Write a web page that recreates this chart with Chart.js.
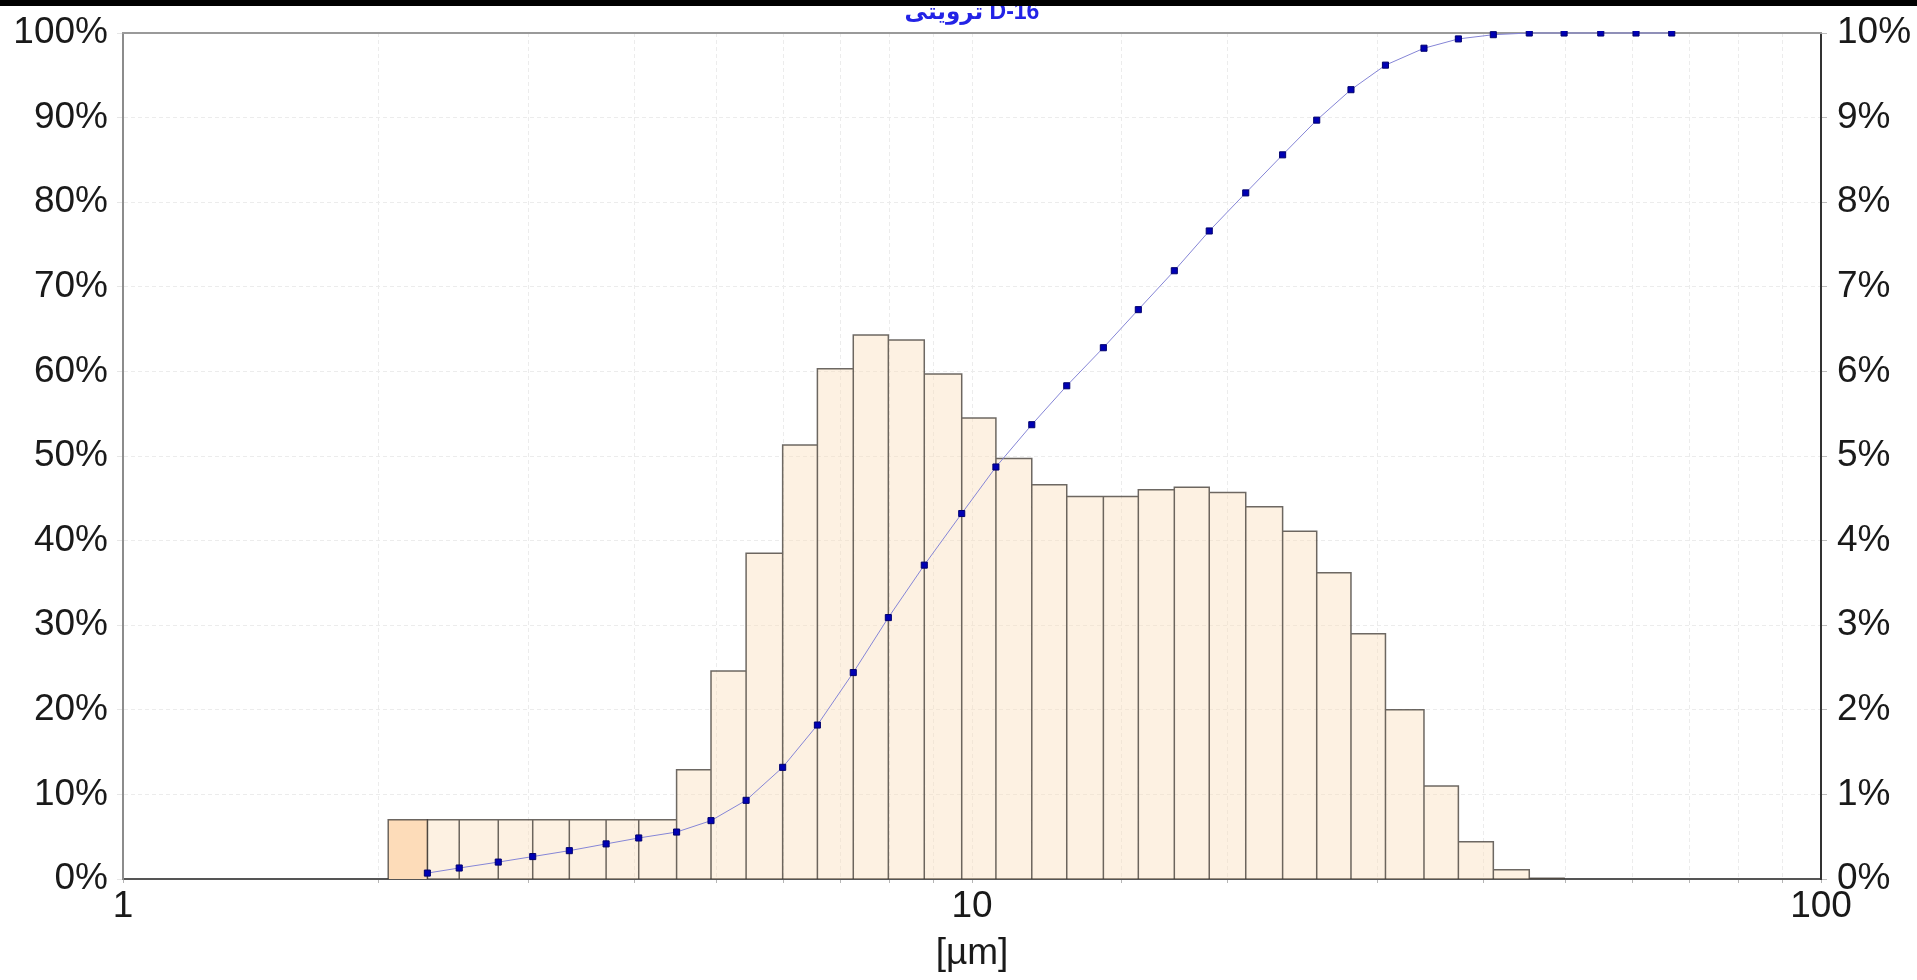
<!DOCTYPE html>
<html>
<head>
<meta charset="utf-8">
<title>D-16 particle size distribution</title>
<script src="https://cdn.jsdelivr.net/npm/chart.js@4.4.1/dist/chart.umd.min.js"></script>
<style>
  html, body { margin: 0; padding: 0; background: #ffffff; }
  #wrap { position: relative; width: 1917px; height: 980px; overflow: hidden; }
  #band { position: absolute; left: 0; top: 0; width: 1917px; height: 6px; background: #000; }
</style>
</head>
<body>
<div id="wrap">
  <canvas id="psd"></canvas>
  <div id="band"></div>
</div>
<script>
// Sample name shown above the plot
const chartTitle = 'ترویتی D-16';

// Size class boundaries [µm] of the histogram
const binEdges = [2.053, 2.283, 2.489, 2.767, 3.038, 3.355, 3.707, 4.050, 4.488, 4.927,
                  5.419, 5.984, 6.575, 7.247, 7.970, 8.786, 9.725, 10.67, 11.76, 12.93,
                  14.28, 15.70, 17.31, 19.03, 21.01, 23.22, 25.47, 27.95, 30.69, 34.07,
                  37.40, 41.12, 45.33, 49.82];

// Share of each size class [%] (right axis)
const binShare = [0.70, 0.70, 0.70, 0.70, 0.70, 0.70, 0.70, 0.70, 1.29, 2.46,
                  3.85, 5.13, 6.03, 6.43, 6.37, 5.97, 5.45, 4.97, 4.66, 4.52,
                  4.52, 4.60, 4.63, 4.57, 4.40, 4.11, 3.62, 2.90, 2.00, 1.10,
                  0.44, 0.11, 0.01];

// Cumulative undersize curve: sizes [µm] and passing [%] (left axis)
const cumSizes = [2.283, 2.489, 2.767, 3.038, 3.355, 3.707, 4.050, 4.488, 4.927, 5.419,
                  5.984, 6.575, 7.247, 7.970, 8.786, 9.725, 10.67, 11.76, 12.93, 14.28,
                  15.70, 17.31, 19.03, 21.01, 23.22, 25.47, 27.95, 30.69, 34.07, 37.40,
                  41.12, 45.33, 49.82, 55.03, 60.55, 66.71];
const cumPassing = [0.7, 1.3, 2.0, 2.65, 3.35, 4.15, 4.85, 5.55, 6.9, 9.3,
                    13.2, 18.2, 24.4, 30.9, 37.1, 43.2, 48.7, 53.7, 58.3, 62.8,
                    67.3, 71.9, 76.6, 81.1, 85.6, 89.7, 93.3, 96.2, 98.2, 99.3,
                    99.8, 100, 100, 100, 100, 100];

// Axis labelling
const xTickLabels = [1, 10, 100];
const leftAxisMax = 100;
const rightAxisMax = 10;

// Outline of size classes [from, to) as a closed step path on the right axis
function classOutline(from, to) {
  const pts = [];
  for (let i = from; i < to; i++) {
    pts.push({ x: binEdges[i], y: 0 });
    pts.push({ x: binEdges[i], y: binShare[i] });
    pts.push({ x: binEdges[i + 1], y: binShare[i] });
    pts.push({ x: binEdges[i + 1], y: 0 });
  }
  return pts;
}

const curvePoints = cumSizes.map((s, i) => ({ x: s, y: cumPassing[i] }));

const FONT = "'Liberation Sans', Arial, 'DejaVu Sans', sans-serif";
Chart.defaults.font.family = FONT;
Chart.defaults.color = '#1a1a1a';

// Top frame line of the plot area
const frameTop = {
  id: 'frameTop',
  beforeDatasetsDraw(chart) {
    const { ctx, chartArea: a } = chart;
    ctx.save();
    ctx.strokeStyle = '#9a9a9a';
    ctx.lineWidth = 2;
    ctx.beginPath();
    ctx.moveTo(a.left - 1, a.top);
    ctx.lineTo(a.right + 1, a.top);
    ctx.stroke();
    ctx.restore();
  }
};

// Sample heading centred over the plot area
const headline = {
  id: 'headline',
  afterDraw(chart) {
    const { ctx, chartArea: a } = chart;
    ctx.save();
    ctx.font = "bold 23px 'Liberation Sans', Arial, 'DejaVu Sans', sans-serif";
    ctx.fillStyle = '#2323e6';
    ctx.textAlign = 'center';
    ctx.textBaseline = 'alphabetic';
    ctx.fillText(chartTitle, (a.left + a.right) / 2, 19);
    ctx.restore();
  }
};

const isDecade = v => Math.abs(Math.log10(v) - Math.round(Math.log10(v))) < 1e-9;

new Chart(document.getElementById('psd'), {
  type: 'line',
  data: {
    datasets: [
      {
        label: 'cumulative',
        data: curvePoints,
        yAxisID: 'y',
        order: 0,
        borderColor: '#8585d6',
        borderWidth: 1,
        tension: 0,
        fill: false,
        pointStyle: 'rect',
        pointRadius: 4.3,
        pointBorderWidth: 1,
        pointBackgroundColor: '#0000b4',
        pointBorderColor: '#00006e',
        clip: { left: 10, right: 10, top: 2, bottom: 10 }
      },
      {
        label: 'first class',
        data: classOutline(0, 1),
        yAxisID: 'y2',
        order: 1,
        borderColor: 'rgba(60, 55, 50, 0.75)',
        borderWidth: 1.5,
        backgroundColor: '#fddcb9',
        fill: 'origin',
        pointRadius: 0,
        tension: 0
      },
      {
        label: 'classes',
        data: classOutline(1, binShare.length),
        yAxisID: 'y2',
        order: 2,
        borderColor: 'rgba(60, 55, 50, 0.75)',
        borderWidth: 1.5,
        backgroundColor: 'rgba(250, 222, 185, 0.42)',
        fill: 'origin',
        pointRadius: 0,
        tension: 0
      }
    ]
  },
  options: {
    responsive: true,
    maintainAspectRatio: false,
    animation: false,
    events: [],
    layout: { padding: { top: 33, left: 0, right: 0, bottom: 0 } },
    plugins: {
      legend: { display: false },
      tooltip: { enabled: false },
      title: { display: false }
    },
    scales: {
      x: {
        type: 'logarithmic',
        position: 'bottom',
        min: 1,
        max: 100,
        ticks: {
          autoSkip: false,
          maxRotation: 0,
          padding: 2,
          font: { size: 37 },
          color: '#1a1a1a',
          callback: v => (isDecade(v) && xTickLabels.includes(Math.round(v))) ? String(Math.round(v)) : ''
        },
        grid: {
          color: '#ececec',
          lineWidth: 1,
          drawTicks: true,
          tickLength: 4,
          tickColor: '#b5b5b5',
          tickBorderDash: []
        },
        border: { display: true, color: '#555555', width: 2, dash: [4, 3] },
        title: {
          display: true,
          text: '[µm]',
          font: { size: 37, lineHeight: 1.2 },
          color: '#1a1a1a',
          padding: { top: 0, bottom: 4 }
        },
        afterFit: s => { s.height = 101; }
      },
      y: {
        type: 'linear',
        position: 'left',
        min: 0,
        max: leftAxisMax,
        ticks: {
          stepSize: 10,
          padding: 9,
          font: { size: 37 },
          color: '#1a1a1a',
          callback: v => v + '%'
        },
        grid: {
          color: '#ececec',
          lineWidth: 1,
          tickLength: 6,
          tickColor: '#e6e6e6',
          tickBorderDash: []
        },
        border: { display: true, color: '#8c8c8c', width: 2, dash: [4, 3] },
        afterFit: s => { s.width = 123; }
      },
      y2: {
        type: 'linear',
        position: 'right',
        min: 0,
        max: rightAxisMax,
        ticks: {
          stepSize: 1,
          padding: 10,
          font: { size: 37 },
          color: '#1a1a1a',
          callback: v => v + '%'
        },
        grid: {
          drawOnChartArea: false,
          tickLength: 6,
          tickColor: '#bdbdbd'
        },
        border: { display: true, color: '#333333', width: 2 },
        afterFit: s => { s.width = 96; }
      }
    }
  },
  plugins: [frameTop, headline]
});
</script>
</body>
</html>
